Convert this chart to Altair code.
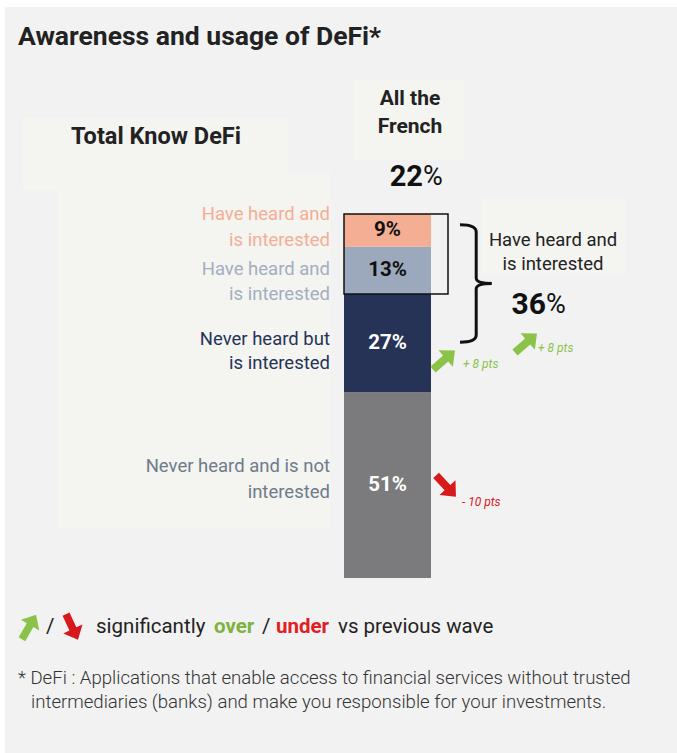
import altair as alt
import pandas as pd

# ---------------- data ----------------
segment_ids = ["heard_interested_top", "heard_interested_mid", "never_heard_interested", "never_heard_not_interested"]
segment_values = [9, 13, 27, 51]  # top to bottom
segment_colors = ["#f4ae94", "#9ca8bb", "#263357", "#7b7b7d"]
light_segments = ["heard_interested_top", "heard_interested_mid"]
group_name = ["All the French"]
total_know = 22
interested_total = 36
delta_interested = "+ 8 pts"
delta_total_interested = "+ 8 pts"
delta_not_interested = "- 10 pts"

# stacked positions (bottom-up) computed from the values
rows = []
cum = 0
for sid, v, c in reversed(list(zip(segment_ids, segment_values, segment_colors))):
    rows.append({"id": sid, "value": v, "start": cum, "end": cum + v,
                 "mid": cum + v / 2, "label": f"{v}%", "group": group_name[0]})
    cum += v
bar_df = pd.DataFrame(rows)
box_df = pd.DataFrame({"group": group_name, "top": [100], "bottom": [100 - sum(segment_values[:2])]})

W, H = 677, 753
FONT = "Roboto"

one = pd.DataFrame({"k": [0]})

def txt(text, x, y, size, color="#222222", weight="normal", align="left", style="normal", font=FONT):
    return alt.Chart(one).mark_text(
        text=text, fontSize=size, font=font, fontWeight=weight, align=align,
        baseline="middle", color=color, fontStyle=style
    ).encode(x=alt.value(x), y=alt.value(y))

def box(x1, x2, y1, y2, color):
    return alt.Chart(one).mark_rect(color=color).encode(
        x=alt.value(x1), x2=alt.value(x2), y=alt.value(y1), y2=alt.value(y2))

ARROW = "M0,-1 L0.75,-0.15 L0.27,-0.15 L0.27,1 L-0.27,1 L-0.27,-0.15 L-0.75,-0.15 Z"

def arrow(x, y, angle, color, size=850):
    return alt.Chart(one).mark_point(
        shape=ARROW, filled=True, color=color, opacity=1, size=size, angle=angle, strokeWidth=0
    ).encode(x=alt.value(x), y=alt.value(y))

BRACE = ("M-0.25,-0.98 Q0.02,-0.98 0.02,-0.86 L0.02,-0.09 Q0.02,0 0.28,0 "
         "M0.28,0 Q0.02,0 0.02,0.09 L0.02,0.86 Q0.02,0.98 -0.25,0.98")

GREEN = "#8bc34a"
RED = "#d7191c"
PANEL = "#f2f2f2"
LIGHT = "#f4f4f1"

xscale = alt.Scale(domain=group_name, range=[344, 431], paddingInner=0, paddingOuter=0)
yscale = alt.Scale(domain=[0, 100], range=[578, 214])

layers = []
# panel background
layers.append(box(5, W, 7, H, PANEL))
# lighter boxes
layers.append(box(23, 288, 118, 190, LIGHT))
layers.append(box(57, 331, 173, 528, LIGHT))
layers.append(box(354, 464, 80, 160, LIGHT))
layers.append(box(482, 625, 197, 275, LIGHT))

# stacked bar
bars = alt.Chart(bar_df).mark_bar(size=87).encode(
    x=alt.X("group:N", scale=xscale, axis=None),
    y=alt.Y("start:Q", scale=yscale, axis=None),
    y2="end:Q",
    color=alt.Color("id:N", scale=alt.Scale(domain=segment_ids, range=segment_colors), legend=None),
)
layers.append(bars)

bar_text = alt.Chart(bar_df).mark_text(font=FONT, fontWeight="bold", fontSize=20.5, baseline="middle").encode(
    x=alt.X("group:N", scale=xscale, axis=None),
    y=alt.Y("mid:Q", scale=yscale, axis=None),
    text="label:N",
    color=alt.condition(alt.FieldOneOfPredicate(field="id", oneOf=light_segments),
                        alt.value("#111111"), alt.value("#ffffff")),
)
layers.append(bar_text)

# outline around the "know DeFi" segments
outline = alt.Chart(box_df).mark_rect(fillOpacity=0, stroke="#111111", strokeWidth=1.5).encode(
    x=alt.value(344), x2=alt.value(448),
    y=alt.Y("top:Q", scale=yscale, axis=None), y2="bottom:Q",
)
layers.append(outline)

# brace
layers.append(alt.Chart(one).mark_point(shape=BRACE, filled=False, stroke="#111111", strokeWidth=3,
                                        size=14400, opacity=1)
              .encode(x=alt.value(475), y=alt.value(283.5)))

# title and headers
layers.append(txt("Awareness and usage of DeFi*", 18, 37, 26.5, weight="bold"))
layers.append(txt("Total Know DeFi", 156, 137, 23.5, weight="bold", align="center"))
layers.append(txt("All the", 410, 99, 21, weight="bold", align="center"))
layers.append(txt("French", 410, 127, 21, weight="bold", align="center"))
layers.append(txt(f"{total_know}", 423, 177, 29, weight="bold", align="right", color="#111111"))
layers.append(txt("%", 423, 177, 27, align="left", color="#111111"))

# left labels
LS = 18.5
layers.append(txt("Have heard and", 330, 214, LS, color="#f4ae94", align="right"))
layers.append(txt("is interested", 330, 240, LS, color="#f4ae94", align="right"))
layers.append(txt("Have heard and", 330, 269, LS, color="#a3aec0", align="right"))
layers.append(txt("is interested", 330, 294, LS, color="#a3aec0", align="right"))
layers.append(txt("Never heard but", 330, 339, LS, color="#263357", align="right"))
layers.append(txt("is interested", 330, 363, LS, color="#263357", align="right"))
layers.append(txt("Never heard and is not", 330, 466, LS, color="#6e7b8b", align="right"))
layers.append(txt("interested", 330, 492, LS, color="#6e7b8b", align="right"))

# right annotation
layers.append(txt("Have heard and", 553, 240, LS, align="center"))
layers.append(txt("is interested", 553, 264, LS, align="center"))
layers.append(txt(f"{interested_total}", 546, 305, 30, weight="bold", align="right", color="#111111"))
layers.append(txt("%", 546, 305, 27, align="left", color="#111111"))

# change arrows
layers.append(arrow(444, 360, 49, GREEN))
layers.append(txt(delta_interested, 463, 364, 12, color=GREEN, style="italic"))
layers.append(arrow(526, 343, 49, GREEN))
layers.append(txt(delta_total_interested, 538, 348, 12, color=GREEN, style="italic"))
layers.append(arrow(446, 486, 137, RED))
layers.append(txt(delta_not_interested, 462, 502, 12, color=RED, style="italic"))

# legend line
layers.append(arrow(29, 627, 30, GREEN, size=800))
layers.append(txt("/", 46, 627, 20.5, color="#222222"))
layers.append(arrow(72, 627, 155, RED, size=800))
layers.append(txt("significantly", 96, 627, 20.5, color="#222222"))
layers.append(txt("over", 214, 627, 20.5, color="#7cb342", weight="bold"))
layers.append(txt("/", 262, 627, 20.5, color="#222222"))
layers.append(txt("under", 276, 627, 20.5, color="#e0201f", weight="bold"))
layers.append(txt("vs previous wave", 338, 627, 20.5, color="#222222"))

# footnote
layers.append(txt("* DeFi : Applications that enable access to financial services without trusted",
                  18, 678, 18.6, color="#333333", weight=300))
layers.append(txt("intermediaries (banks) and make you responsible for your investments.",
                  31, 702, 18.6, color="#333333", weight=300))

chart = alt.layer(*layers).properties(
    width=W, height=H, padding=0, autosize=alt.AutoSizeParams(type="none"), background="#ffffff"
).configure_view(stroke=None, strokeWidth=0)

chart.save("out.html", embed_options={"renderer": "svg", "actions": False})
